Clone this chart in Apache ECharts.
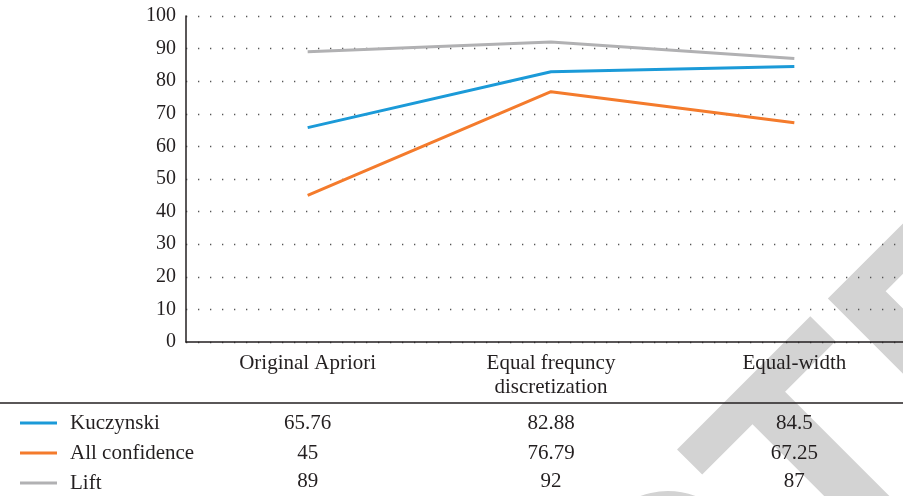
<!DOCTYPE html>
<html>
<head>
<meta charset="utf-8">
<script src="https://cdn.jsdelivr.net/npm/echarts@6/dist/echarts.min.js"></script>
<style>html,body{margin:0;padding:0;background:#fff;overflow:hidden}#c{width:916px;height:496px}</style>
</head>
<body>
<div id="c"></div>
<script>
var categories = ['Original Apriori', 'Equal frequncy\ndiscretization', 'Equal-width'];
var seriesNames = ['Kuczynski', 'All confidence', 'Lift'];
var kuczynski = [65.76, 82.88, 84.5];
var allConfidence = [45, 76.79, 67.25];
var lift = [89, 92, 87];
var yTicks = {min: 0, max: 100, interval: 10};

var colors = ['#1b9ad8', '#f47b2c', '#b1b1b3'];
var dataRows = [kuczynski, allConfidence, lift];
var FONT = 'Liberation Serif';
var TXT = '#231f20';

var chart = echarts.init(document.getElementById('c'), null, {renderer: 'canvas'});

var xAxes = [{
  type: 'category', data: categories, gridIndex: 0, position: 'bottom',
  axisLine: {show: true, lineStyle: {color: TXT, width: 1.5}},
  axisTick: {show: false},
  axisLabel: {color: TXT, fontFamily: FONT, fontSize: 21, lineHeight: 24, margin: 9}
}];
var rowOffsets = [69, 99, 127];
dataRows.forEach(function (row, i) {
  xAxes.push({
    type: 'category', data: categories, gridIndex: 0, position: 'bottom', offset: rowOffsets[i],
    axisLine: {show: false}, axisTick: {show: false}, splitLine: {show: false},
    axisLabel: {color: TXT, fontFamily: FONT, fontSize: 21, lineHeight: 24, margin: 0,
      formatter: function (v, idx) { return String(row[idx]); }}
  });
});

var option = {
  animation: false,
  backgroundColor: '#fff',
  color: colors,
  grid: {left: 186, top: 16, bottom: 154, right: 0, containLabel: false},
  xAxis: xAxes,
  yAxis: {
    type: 'value', min: yTicks.min, max: yTicks.max, interval: yTicks.interval,
    axisLine: {show: true, lineStyle: {color: TXT, width: 1.5}},
    axisTick: {show: false},
    axisLabel: {color: TXT, fontFamily: FONT, fontSize: 20, margin: 10},
    splitLine: {show: true, lineStyle: {color: '#555', width: 1.3, type: [1.3, 10.7], dashOffset: -12}}
  },
  legend: {
    orient: 'vertical', left: 20, top: 411, itemGap: 6, padding: 0,
    icon: 'rect', itemWidth: 37, itemHeight: 3,
    textStyle: {color: TXT, fontFamily: FONT, fontSize: 21, lineHeight: 24, padding: [0, 0, 0, 8]},
    data: seriesNames
  },
  graphic: [
    {type: 'text', x: -175, y: 1488, rotation: Math.PI / 4, z: -10, silent: true,
      style: {text: 'RETRACTED', font: 'bold 320px "Liberation Sans"', fill: '#d3d3d3',
        textAlign: 'left', textVerticalAlign: 'middle'}},
    {type: 'line', z: 5, silent: true, shape: {x1: 0, y1: 403, x2: 903, y2: 403},
      style: {stroke: TXT, lineWidth: 1.5}}
  ],
  series: dataRows.map(function (row, i) {
    return {
      name: seriesNames[i], type: 'line', data: row, xAxisIndex: 0, yAxisIndex: 0,
      symbol: 'none', lineStyle: {width: 3, color: colors[i]}, itemStyle: {color: colors[i]}
    };
  })
};
chart.setOption(option);
</script>
</body>
</html>
